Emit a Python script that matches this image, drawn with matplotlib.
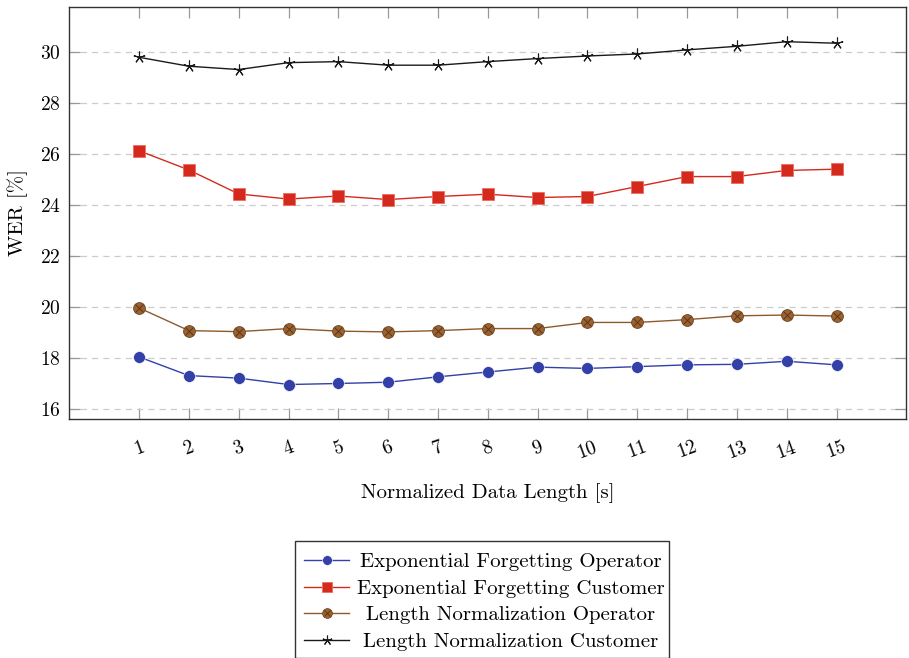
import matplotlib
matplotlib.use("Agg")
import matplotlib.pyplot as plt
from matplotlib.lines import Line2D
from matplotlib.patches import Rectangle

plt.rcParams["font.family"] = "serif"
plt.rcParams["font.serif"] = ["cmr10", "DejaVu Serif"]
plt.rcParams["mathtext.fontset"] = "cm"
plt.rcParams["axes.formatter.use_mathtext"] = True

# normalized data length in seconds
lengths = list(range(1, 16))

ef_operator = [18.05, 17.32, 17.22, 16.97, 17.01, 17.06, 17.27, 17.46,
               17.65, 17.60, 17.67, 17.74, 17.76, 17.88, 17.74]
ef_customer = [26.12, 25.37, 24.43, 24.23, 24.35, 24.21, 24.33, 24.42,
               24.29, 24.33, 24.72, 25.11, 25.11, 25.35, 25.40]
ln_operator = [19.97, 19.08, 19.04, 19.16, 19.06, 19.03, 19.08, 19.16,
               19.16, 19.40, 19.40, 19.51, 19.66, 19.69, 19.65]
ln_customer = [29.78, 29.43, 29.30, 29.57, 29.61, 29.47, 29.47, 29.61,
               29.73, 29.83, 29.91, 30.07, 30.21, 30.39, 30.33]

y_ticks = [16, 18, 20, 22, 24, 26, 28, 30]
series_names = ["Exponential Forgetting Operator", "Exponential Forgetting Customer",
                "Length Normalization Operator", "Length Normalization Customer"]

blue = "#3340a8"
red = "#d42a1e"
brown = "#8f5a2b"
dark = "#1a1a1a"

# one style per series: line colour, marker, face, edge, overlay marker
styles = [
    dict(color=blue, marker="o", mfc=blue, mec="#ffffff", mew=0.4),
    dict(color=red, marker="s", mfc=red, mec="#f06a60", mew=0.6),
    dict(color=brown, marker="o", mfc="#9b6230", mec="#6e4420", mew=0.6),
    dict(color=dark, marker=(5, 2, 0), mfc=dark, mec=dark, mew=0.8),
]
overlay = [None, None, "x", None]

W, H = 909, 658
fig = plt.figure(figsize=(W / 100, H / 100), dpi=100)
ax = fig.add_axes([69.3 / W, 1 - 419 / H, 837 / W, 412.3 / H])

for values, st, ov in zip([ef_operator, ef_customer, ln_operator, ln_customer], styles, overlay):
    ax.plot(lengths, values, lw=1.0, ms=8.5, **st)
    if ov:
        ax.plot(lengths, values, ls="none", marker=ov, ms=6, mec="#5a3617", mew=0.7)

ax.set_xlim(-0.4, 16.4)
ax.set_ylim(15.62, 31.76)
ax.set_xticks(lengths)
ax.set_yticks(y_ticks)
ax.yaxis.grid(True, ls=(0, (5, 4)), color="#cccccc", lw=0.9)
ax.set_axisbelow(True)

ax.tick_params(axis="both", direction="in", length=8, width=0.9, color="#999999",
               labelsize=14, top=True, right=True)
ax.tick_params(axis="x", pad=14)
ax.tick_params(axis="y", pad=6)
for lbl in ax.get_xticklabels():
    lbl.set_rotation(20)
for spine in ax.spines.values():
    spine.set_color("#333333")
    spine.set_linewidth(1.0)

ax.set_xlabel("Normalized Data Length [s]", fontsize=15, labelpad=15)
ax.set_ylabel("WER [%]", fontsize=15, labelpad=9)

# legend box below the axes, handles on the left and centred labels
fig.add_artist(Rectangle((295 / W, 0), 374 / W, 1 - 541 / H, transform=fig.transFigure,
                         fill=False, ec="#333333", lw=1.0))
row_y = [560, 587, 613, 640]
for name, st, ov, y in zip(series_names, styles, overlay, row_y):
    yf = 1 - y / H
    fig.add_artist(Line2D([304 / W, 349 / W], [yf, yf], transform=fig.transFigure,
                          lw=1.0, color=st["color"]))
    fig.add_artist(Line2D([326.5 / W], [yf], transform=fig.transFigure, ls="none", ms=7,
                          marker=st["marker"], mfc=st["mfc"], mec=st["mec"], mew=st["mew"]))
    if ov:
        fig.add_artist(Line2D([326.5 / W], [yf], transform=fig.transFigure, ls="none",
                              marker=ov, ms=5, mec="#5a3617", mew=0.7))
    fig.text(511 / W, yf, name, fontsize=15, ha="center", va="center_baseline")

fig.savefig("out.png", dpi=100)
